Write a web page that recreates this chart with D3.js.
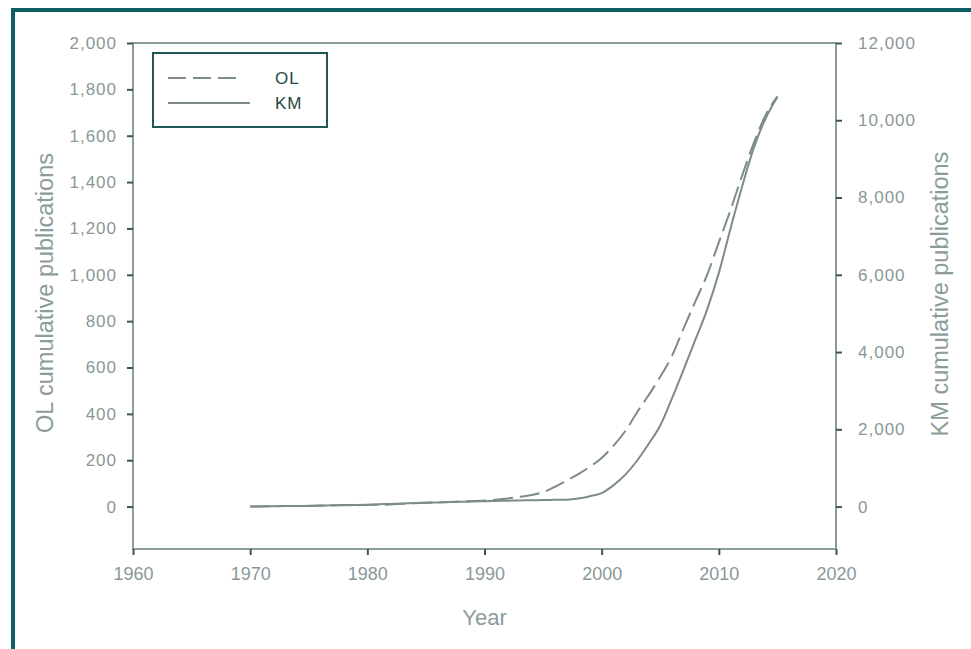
<!DOCTYPE html>
<meta charset="utf-8">
<style>
body { margin: 0; background: #fff; }
svg { font-family: "Liberation Sans", Arial, sans-serif; }
.tick text { fill: #8a9898; }
.tick line { stroke: #3c5656; stroke-width: 2px; }
.title { fill: #8c9c9c; }
</style>
<svg width="971" height="649"></svg>
<script src="https://d3js.org/d3.v7.min.js"></script>
<script>

var years = [1970,1971,1972,1973,1974,1975,1976,1977,1978,1979,
             1980,1981,1982,1983,1984,1985,1986,1987,1988,1989,
             1990,1991,1992,1993,1994,1995,1996,1997,1998,1999,
             2000,2001,2002,2003,2004,2005,2006,2007,2008,2009,
             2010,2011,2012,2013,2014,2015];

// OL cumulative publications (left axis)
var olValues = [0,1,2,2,3,3,4,5,6,6,
                7,8,9,12,14,16,18,20,22,24,
                26,30,35,42,50,62,85,112,140,172,
                210,262,325,405,480,560,650,770,885,1000,
                1140,1280,1430,1570,1690,1770];

// KM cumulative publications (right axis)
var kmValues = [0,4,8,12,16,20,26,32,38,44,
                50,60,70,80,90,100,108,116,124,132,
                140,146,152,158,164,170,175,180,210,270,
                350,550,820,1180,1620,2100,2800,3550,4320,5100,
                6050,7200,8300,9300,10050,10600];

var xTicks = [1960,1970,1980,1990,2000,2010,2020];
var olTicks = [0,200,400,600,800,1000,1200,1400,1600,1800,2000];
var kmTicks = [0,2000,4000,6000,8000,10000,12000];

var legendItems = [
  {name: "OL", dash: "18,7", len: 72},
  {name: "KM", dash: null, len: 82}
];

var svg = d3.select("svg"),
    width = +svg.attr("width"),
    height = +svg.attr("height");

var mLeft = 133, mRight = 836, mTop = 43, mBottom = 549;
var lineColor = "#7d8b8b", axisColor = "#8a9c9c";

var x = d3.scaleLinear().domain([1960, 2020]).range([mLeft, mRight]);
var yL = d3.scaleLinear().domain([-183, 2000]).range([mBottom, mTop]);
var yR = d3.scaleLinear().domain([-1098, 12000]).range([mBottom, mTop]);

// outer frame
svg.append("path")
    .attr("d", "M13," + (height + 5) + "V10H" + (width + 5))
    .attr("fill", "none")
    .attr("stroke", "#0d5f63")
    .attr("stroke-width", 4);

// plot box
svg.append("rect")
    .attr("x", mLeft).attr("y", mTop)
    .attr("width", mRight - mLeft).attr("height", mBottom - mTop)
    .attr("fill", "none")
    .attr("stroke", axisColor)
    .attr("stroke-width", 2);

var fmt = d3.format(",");

var gx = svg.append("g")
    .attr("transform", "translate(0," + mBottom + ")")
    .call(d3.axisBottom(x).tickValues(xTicks).tickFormat(d3.format("d")).tickSize(6).tickPadding(12));
gx.selectAll(".tick text").style("font-size", "18px");

var gl = svg.append("g")
    .attr("transform", "translate(" + mLeft + ",0)")
    .call(d3.axisLeft(yL).tickValues(olTicks).tickFormat(fmt).tickSize(6).tickPadding(10));
gl.selectAll(".tick text").style("font-size", "17px").style("letter-spacing", "1px");

var gr = svg.append("g")
    .attr("transform", "translate(" + mRight + ",0)")
    .call(d3.axisRight(yR).tickValues(kmTicks).tickFormat(fmt).tickSize(6).tickPadding(16));
gr.selectAll(".tick text").style("font-size", "17px").style("letter-spacing", "1px");

svg.selectAll(".domain").remove();

// axis titles
svg.append("text").attr("class", "title")
    .attr("x", (mLeft + mRight) / 2).attr("y", 625)
    .attr("text-anchor", "middle")
    .style("font-size", "22px")
    .text("Year");

svg.append("text").attr("class", "title")
    .attr("transform", "translate(53,293) rotate(-90)")
    .attr("text-anchor", "middle")
    .style("font-size", "23.5px")
    .text("OL cumulative publications");

svg.append("text").attr("class", "title")
    .attr("transform", "translate(948,294) rotate(-90)")
    .attr("text-anchor", "middle")
    .style("font-size", "23.5px")
    .text("KM cumulative publications");

// lines
var olLine = d3.line()
    .x((d, i) => x(years[i]))
    .y(d => yL(d))
    .curve(d3.curveMonotoneX);

var kmLine = d3.line()
    .x((d, i) => x(years[i]))
    .y(d => yR(d))
    .curve(d3.curveMonotoneX);

svg.append("path")
    .datum(kmValues)
    .attr("d", kmLine)
    .attr("fill", "none")
    .attr("stroke", lineColor)
    .attr("stroke-width", 2);

svg.append("path")
    .datum(olValues)
    .attr("d", olLine)
    .attr("fill", "none")
    .attr("stroke", lineColor)
    .attr("stroke-width", 2)
    .attr("stroke-dasharray", "20,7");

// legend
var legend = svg.append("g").attr("transform", "translate(153,53)");

legend.append("rect")
    .attr("width", 174).attr("height", 74)
    .attr("fill", "#fff")
    .attr("stroke", "#1f5658")
    .attr("stroke-width", 2);

var item = legend.selectAll(".item")
    .data(legendItems)
    .enter().append("g")
    .attr("transform", (d, i) => "translate(0," + (25 + i * 25) + ")");

item.append("line")
    .attr("x1", 15).attr("x2", d => 15 + d.len)
    .attr("stroke", lineColor)
    .attr("stroke-width", 2)
    .attr("stroke-dasharray", d => d.dash);

item.append("text")
    .attr("x", 122).attr("dy", "0.36em")
    .style("font-size", "17px")
    .style("letter-spacing", "1px")
    .attr("fill", "#1f4646")
    .text(d => d.name);

</script>
